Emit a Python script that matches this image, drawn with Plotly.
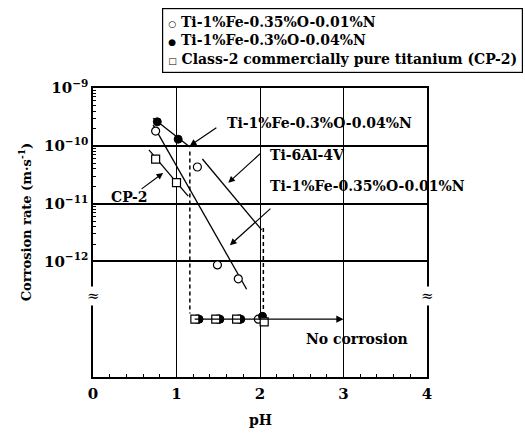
import plotly.graph_objects as go

# ---------------- data ----------------
# Ti-1%Fe-0.35%O-0.01%N (open circles)
open_ph = [0.75, 1.25, 1.49, 1.74]
open_rate = [1.8e-10, 4.3e-11, 8.7e-13, 5.0e-13]
# Ti-1%Fe-0.3%O-0.04%N (filled circles)
filled_ph = [0.77, 1.02]
filled_rate = [2.6e-10, 1.3e-10]
# CP-2 (open squares)
cp2_ph = [0.75, 1.0]
cp2_rate = [5.9e-11, 2.3e-11]

# "No corrosion" points
nc_open_ph = [1.25, 1.50, 1.75, 1.98]
nc_open_rate = [1e-13, 1e-13, 1e-13, 1e-13]
nc_filled_ph = [1.27, 1.52, 1.77, 2.03]
nc_filled_rate = [1e-13, 1e-13, 1e-13, 1.12e-13]
nc_cp2_ph = [1.22, 1.47, 1.72, 2.05]
nc_cp2_rate = [1e-13, 1e-13, 1e-13, 0.9e-13]

# trend lines (endpoints)
fit_filled_ph = [0.72, 1.16]
fit_filled_rate = [3.0e-10, 9.5e-11]
fit_open_ph = [0.72, 1.84]
fit_open_rate = [2.3e-10, 3.3e-13]
fit_cp2_ph = [0.67, 1.14]
fit_cp2_rate = [8.5e-11, 1.35e-11]
fit_ti64_ph = [1.31, 2.02]
fit_ti64_rate = [5.9e-11, 3.5e-12]
dash1_ph = [1.16, 1.16]
dash1_rate = [8.0e-11, 1.25e-13]
dash2_ph = [2.04, 2.04]
dash2_rate = [3.8e-12, 1.25e-13]

x_ticks = [0, 1, 2, 3, 4]
y_ticks = [1e-12, 1e-11, 1e-10, 1e-9]
y_ticktext = ["10<sup>\u221212</sup>", "10<sup>\u221211</sup>",
              "10<sup>\u221210</sup>", "10<sup>\u22129</sup>"]
y_minor_ticks = [m * 10.0 ** e for e in (-12, -11, -10) for m in range(2, 10)]

legend_labels = ["Ti-1%Fe-0.35%O-0.01%N", "Ti-1%Fe-0.3%O-0.04%N",
                 "Class-2 commercially pure titanium (CP-2)"]

FONT = "DejaVu Serif"
BLK = "black"

fig = go.Figure()

line_style = dict(color=BLK, width=1.3)
for xs, ys in [(fit_filled_ph, fit_filled_rate), (fit_open_ph, fit_open_rate),
               (fit_cp2_ph, fit_cp2_rate), (fit_ti64_ph, fit_ti64_rate)]:
    fig.add_trace(go.Scatter(x=xs, y=ys, mode="lines", line=line_style,
                             showlegend=False, hoverinfo="skip"))
for xs, ys in [(dash1_ph, dash1_rate), (dash2_ph, dash2_rate)]:
    fig.add_trace(go.Scatter(x=xs, y=ys, mode="lines",
                             line=dict(color=BLK, width=1.5, dash="4px,3px"),
                             showlegend=False, hoverinfo="skip"))

mk_open = dict(symbol="circle", size=8, color="white", line=dict(color=BLK, width=1.2))
mk_filled = dict(symbol="circle", size=8, color=BLK, line=dict(color=BLK, width=1))
mk_sq = dict(symbol="square", size=8, color="white", line=dict(color=BLK, width=1.2))

fig.add_trace(go.Scatter(x=open_ph + nc_open_ph, y=open_rate + nc_open_rate,
                         mode="markers", marker=mk_open, name=legend_labels[0],
                         showlegend=False))
fig.add_trace(go.Scatter(x=filled_ph + nc_filled_ph, y=filled_rate + nc_filled_rate,
                         mode="markers", marker=mk_filled, name=legend_labels[1],
                         showlegend=False))
fig.add_trace(go.Scatter(x=cp2_ph + nc_cp2_ph, y=cp2_rate + nc_cp2_rate,
                         mode="markers", marker=mk_sq, name=legend_labels[2],
                         showlegend=False))

tfont = dict(family=FONT, size=14, color=BLK, weight="bold")
tickfont = dict(family=FONT, size=15, color=BLK, weight="bold")

# labels with arrows
labels = [
    ("Ti-1%Fe-0.3%O-0.04%N", 1.58, -9.61, 1.16, -10.0, 28, -19),
    ("Ti-6Al-4V", 2.10, -10.16, 1.62, -10.64, 34, -31),
    ("Ti-1%Fe-0.35%O-0.01%N", 2.10, -10.70, 1.64, -11.72, 42, -38),
]
for txt, tx, ty, hx, hy, dx, dy in labels:
    fig.add_annotation(x=tx, y=ty, text=txt, showarrow=False, xanchor="left",
                       yanchor="middle", font=tfont)
    fig.add_annotation(x=hx, y=hy, ax=dx, ay=dy, text="", showarrow=True,
                       arrowhead=2, arrowsize=1.1, arrowwidth=1.2, arrowcolor=BLK)
fig.add_annotation(x=0.43, y=-10.89, text="CP-2", showarrow=False, font=tfont)
fig.add_annotation(x=0.84, y=-10.47, ax=-23, ay=17, text="", showarrow=True,
                   arrowhead=2, arrowsize=1.1, arrowwidth=1.2, arrowcolor=BLK)
# no corrosion arrow
fig.add_annotation(x=3.0, y=-13, ax=1.2, ay=-13, axref="x", ayref="y", text="",
                   showarrow=True, arrowhead=2, arrowsize=1.2, arrowwidth=1.2,
                   arrowcolor=BLK)
fig.add_annotation(x=3.16, y=-13.35, text="No corrosion", showarrow=False, font=tfont)

# axis break marks
for bx in [0, 4]:
    fig.add_annotation(x=bx, y=-12.6, text="\u2248", showarrow=False,
                       xanchor="center", yanchor="middle",
                       font=dict(family=FONT, size=15, color=BLK),
                       bgcolor="white", borderpad=0)

# axis titles
fig.add_annotation(xref="paper", yref="paper", x=-0.204, y=0.535,
                   xanchor="center", yanchor="middle",
                   text="Corrosion rate (m\u00b7s<sup>-1</sup>)", textangle=-90,
                   showarrow=False, font=dict(tfont, size=13))
fig.add_annotation(xref="paper", yref="paper", x=0.5, y=-0.149, text="pH",
                   xanchor="center", yanchor="middle",
                   showarrow=False, font=tfont)

# legend box
sym = lambda s: f"<span style='font-size:9px'>{s}</span>"
legend_text = "<br>".join([sym("\u25cb") + " " + legend_labels[0],
                           sym("\u25cf") + " " + legend_labels[1],
                           sym("\u25a1") + " " + legend_labels[2]])
fig.add_annotation(xref="paper", yref="paper", x=(162 - 93) / 334, y=(377 - 8) / 289,
                   xanchor="left", yanchor="top", text=legend_text, align="left",
                   showarrow=False, font=tfont, bordercolor=BLK, borderwidth=1.2,
                   borderpad=5, bgcolor="white")

fig.update_xaxes(range=[0, 4], tickvals=x_ticks, showgrid=True, gridcolor=BLK,
                 gridwidth=1, showline=True, linecolor=BLK, linewidth=1.5,
                 mirror=True, ticks="inside", ticklen=4, tickcolor=BLK,
                 tickfont=tickfont, ticklabelstandoff=2, zeroline=False,
                 minor=dict(dtick=0.2, ticks="inside", ticklen=3, tickcolor=BLK,
                            showgrid=False))
fig.update_yaxes(type="log", range=[-14, -9], tickmode="array", tickvals=y_ticks,
                 ticktext=y_ticktext, showgrid=True, gridcolor=BLK, gridwidth=1.5,
                 showline=True, linecolor=BLK, linewidth=1.5, mirror=True,
                 ticks="inside", ticklen=4, tickcolor=BLK, tickfont=tickfont,
                 minor=dict(tickmode="array", tickvals=y_minor_ticks, ticks="inside",
                            ticklen=3, tickwidth=1, tickcolor=BLK, showgrid=False))

fig.update_layout(width=525, height=433, margin=dict(l=93, r=98, t=88, b=56),
                  paper_bgcolor="white", plot_bgcolor="white", showlegend=False,
                  font=dict(family=FONT, color=BLK))

fig.write_html("out.html")
